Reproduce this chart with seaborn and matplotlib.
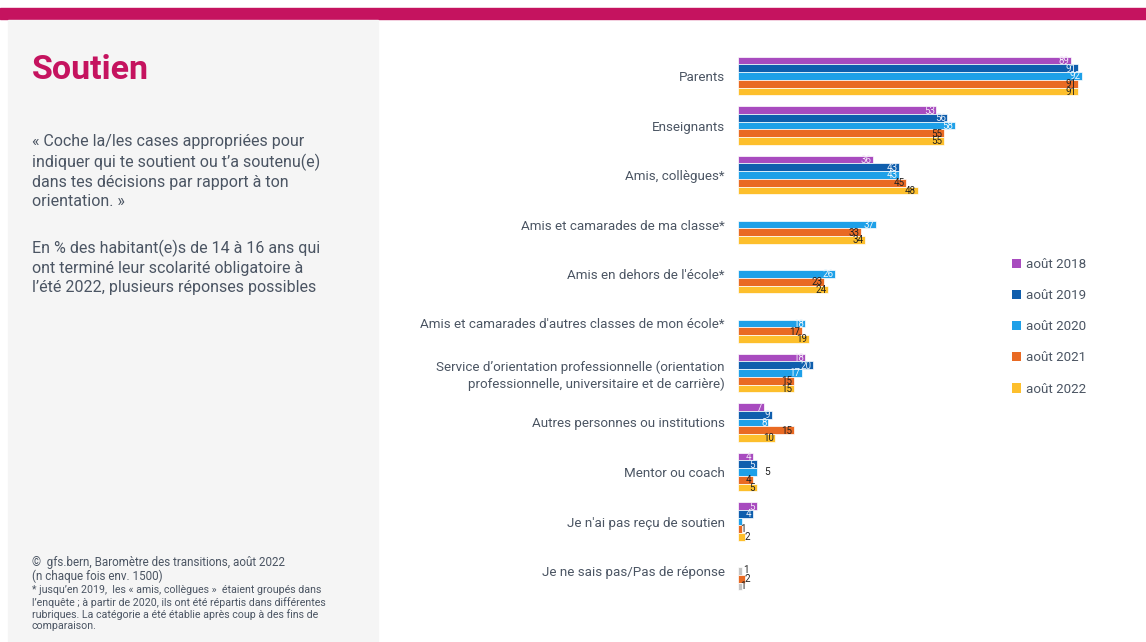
import numpy as np
import pandas as pd
import matplotlib
matplotlib.use("Agg")
import matplotlib.pyplot as plt
from matplotlib.patches import Rectangle, Patch
import seaborn as sns

nan = np.nan

categories = [
    "Parents",
    "Enseignants",
    "Amis, collègues*",
    "Amis et camarades de ma classe*",
    "Amis en dehors de l'école*",
    "Amis et camarades d'autres classes de mon école*",
    "Service d’orientation professionnelle (orientation\nprofessionnelle, universitaire et de carrière)",
    "Autres personnes ou institutions",
    "Mentor ou coach",
    "Je n'ai pas reçu de soutien",
    "Je ne sais pas/Pas de réponse",
]
years = ["août 2018", "août 2019", "août 2020", "août 2021", "août 2022"]

v2018 = [89, 53, 36, nan, nan, nan, 18, 7, 4, 5, nan]
v2019 = [91, 56, 43, nan, nan, nan, 20, 9, 5, 4, nan]
v2020 = [92, 58, 43, 37, 26, 18, 17, 8, 5, 1, 1]
v2021 = [91, 55, 45, 33, 23, 17, 15, 15, 4, 1, 2]
v2022 = [91, 55, 48, 34, 24, 19, 15, 10, 5, 2, 1]
series = [v2018, v2019, v2020, v2021, v2022]

palette = ["#a84bbf", "#0f5ead", "#1ea0e8", "#e96a23", "#fdbf2c"]
label_colors = ["#f3e6f7", "#e6eef8", "#eaf6fd", "#222222", "#222222"]
grey_bar = "#c4c4c4"
magenta = "#c5135f"
text_col = "#4b5563"

df = pd.DataFrame(
    [(c, y, s[i]) for y, s in zip(years, series) for i, c in enumerate(categories)],
    columns=["categorie", "annee", "pct"],
).dropna()

sns.set_theme(style="white")
plt.rcParams["font.family"] = ["Roboto", "DejaVu Sans"]

fig = plt.figure(figsize=(11.46, 6.42), dpi=100)
W, H = 1146, 642

# page decoration: magenta band and grey side panel
fig.patches.append(Rectangle((0, 1 - 19 / H), 1, 11 / H, transform=fig.transFigure,
                             color=magenta, zorder=0))
fig.patches.append(Rectangle((8 / W, 0), 370 / W, 1 - 20 / H, transform=fig.transFigure,
                             color="#f5f5f5", zorder=0))

ax_left = 738 / W
ax_top = 51.25
ax_bot = 595.75
ax = fig.add_axes([ax_left, 1 - ax_bot / H, 374 / W, (ax_bot - ax_top) / H])

sns.barplot(data=df, y="categorie", x="pct", hue="annee", order=categories,
            hue_order=years, palette=palette, saturation=1, width=0.78,
            orient="h", dodge=True, legend=False, ax=ax, edgecolor="white",
            linewidth=0.5, errorbar=None)

ax.set_xlim(0, 100)
ax.set_ylim(len(categories) - 0.5, -0.5)
ax.set_xlabel("")
ax.set_ylabel("")
ax.set_xticks([])
sns.despine(ax=ax, left=True, bottom=True)
ax.tick_params(axis="y", length=0, pad=9.5, labelsize=9.6, labelcolor=text_col)
for t in ax.get_yticklabels():
    t.set_linespacing(1.25)

no_answer = categories.index("Je ne sais pas/Pas de réponse")
hidden_labels = {("Je n'ai pas reçu de soutien", "août 2020")}
outside_labels = {("Mentor ou coach", "août 2020")}

for k, cont in enumerate(ax.containers):
    yr = years[k]
    for bar in cont:
        ci = int(round(bar.get_y() + bar.get_height() / 2))
        val = bar.get_width()
        if np.isnan(val):
            continue
        cat = categories[ci]
        yc = bar.get_y() + bar.get_height() / 2
        if ci == no_answer and yr != "août 2021":
            bar.set_facecolor(grey_bar)
        if (cat, yr) in hidden_labels:
            continue
        txt = f"{val:.0f}"
        if (cat, yr) in outside_labels:
            ax.text(val + 2.0, yc, txt, ha="left", va="center", fontsize=7.4,
                    color="#222222")
        elif val <= 2:
            lift = -0.03 if (ci == no_answer and yr == "août 2020") else 0
            ax.text(val + 0.4 + (0.8 if lift else 0), yc + lift, txt, ha="center",
                    va="center", fontsize=7.0, color="#222222")
        else:
            ax.text(val - 0.4, yc + 0.01, txt, ha="right", va="center",
                    fontsize=7.0, color=label_colors[k])

# legend
handles = [Patch(facecolor=c, edgecolor="none") for c in palette]
fig.legend(handles, years, loc="upper left", bbox_to_anchor=(1012 / W, 1 - 258 / H),
           frameon=False, fontsize=9.6, handlelength=0.7, handleheight=0.7,
           handletextpad=0.35, labelspacing=1.36, labelcolor=text_col,
           borderaxespad=0, borderpad=0)

# side panel texts
fig.text(32 / W, 1 - 70 / H, "Soutien", fontsize=24.5, fontweight="bold",
         color=magenta, va="center", ha="left")
question = ("« Coche la/les cases appropriées pour\n"
            "indiquer qui te soutient ou t’a soutenu(e)\n"
            "dans tes décisions par rapport à ton\n"
            "orientation. »")
fig.text(32 / W, 1 - 134 / H, question, fontsize=11.5, color=text_col,
         va="top", ha="left", linespacing=1.33)
base = ("En % des habitant(e)s de 14 à 16 ans qui\n"
        "ont terminé leur scolarité obligatoire à\n"
        "l’été 2022, plusieurs réponses possibles")
fig.text(32 / W, 1 - 240 / H, base, fontsize=11.5, color=text_col,
         va="top", ha="left", linespacing=1.33)
source = ("©  gfs.bern, Baromètre des transitions, août 2022\n"
          "(n chaque fois env. 1500)")
fig.text(32 / W, 1 - 556 / H, source, fontsize=8.4, color=text_col,
         va="top", ha="left", linespacing=1.08)
note = ("* jusqu’en 2019,  les « amis, collègues »  étaient groupés dans\n"
        "l’enquête ; à partir de 2020, ils ont été répartis dans différentes\n"
        "rubriques. La catégorie a été établie après coup à des fins de\n"
        "comparaison.")
fig.text(32 / W, 1 - 585 / H, note, fontsize=7.7, color=text_col,
         va="top", ha="left", linespacing=1.18)

fig.savefig("out.png", dpi=100)
